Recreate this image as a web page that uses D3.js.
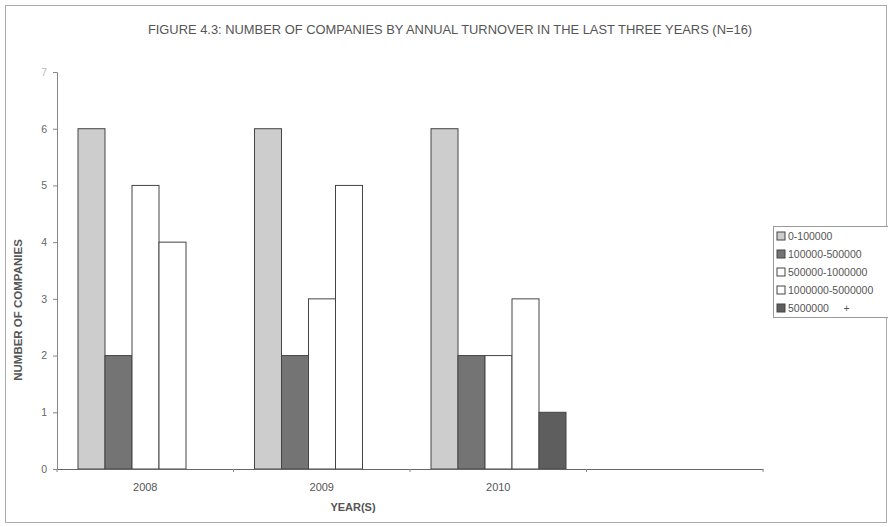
<!DOCTYPE html>
<html>
<head>
<meta charset="utf-8">
<script src="https://cdn.jsdelivr.net/npm/d3@7"></script>
<style>
  body { margin: 0; background: #fff; }
  svg { font-family: "Liberation Sans", Arial, sans-serif; }
</style>
</head>
<body>
<svg id="chart" width="888" height="527"></svg>
<script>
// data
var years = ["2008", "2009", "2010", ""];
var bands = ["0-100000", "100000-500000", "500000-1000000", "1000000-5000000", "5000000     +"];
var band1 = [6, 6, 6, null];   // 0-100000
var band2 = [2, 2, 2, null];   // 100000-500000
var band3 = [5, 3, 2, null];   // 500000-1000000
var band4 = [4, 5, 3, null];   // 1000000-5000000
var band5 = [0, 0, 1, null];   // 5000000 +
var yTicks = [0, 1, 2, 3, 4, 5, 6, 7];

(function() {
var series = [band1, band2, band3, band4, band5];
var fills = ["#cdcdcd", "#747474", "#ffffff", "#ffffff", "#5e5e5e"];

var svg = d3.select("#chart");

// frame
svg.append("rect")
  .attr("x", 5.5).attr("y", 5.5)
  .attr("width", 881).attr("height", 517)
  .attr("fill", "none").attr("stroke", "#aaa").attr("stroke-width", 1);

var plotLeft = 57, plotRight = 763, plotTop = 72, plotBottom = 469;

var x0 = d3.scaleBand().domain(d3.range(years.length)).range([plotLeft, plotRight]);
var x1 = d3.scaleBand().domain(d3.range(bands.length)).range([21, x0.bandwidth() - 20.5]);
var y = d3.scaleLinear().domain([0, 7]).range([plotBottom, plotTop]);

// bars
series.forEach(function(vals, si) {
  svg.append("g").selectAll("rect")
    .data(vals.map(function(v, i) { return {i: i, v: v}; }).filter(function(d) { return d.v !== null && d.v > 0; }))
    .enter().append("rect")
    .attr("x", function(d) { return x0(d.i) + x1(si); })
    .attr("y", function(d) { return y(d.v); })
    .attr("width", x1.bandwidth())
    .attr("height", function(d) { return y(0) - y(d.v); })
    .attr("fill", fills[si])
    .attr("stroke", "#444")
    .attr("stroke-width", 1);
});

// y axis
var yAxis = svg.append("g")
  .attr("transform", "translate(" + plotLeft + ",0)")
  .call(d3.axisLeft(y).tickValues(yTicks).tickSize(4).tickFormat(d3.format("d")));
yAxis.select(".domain").attr("stroke", "#888");
yAxis.selectAll(".tick line").attr("stroke", "#888");
yAxis.selectAll("text").attr("fill", "#666").style("font-size", "10.5px").attr("x", -10);
yAxis.selectAll(".tick").filter(function(d) { return d === 7; }).select("text").attr("fill", "#bbb");

// x axis
var xAxis = svg.append("g")
  .attr("transform", "translate(0," + plotBottom + ")")
  .call(d3.axisBottom(x0).tickSize(0).tickFormat(function(i) { return years[i]; }));
xAxis.select(".domain").attr("stroke", "#666");
xAxis.selectAll("text").attr("fill", "#555").style("font-size", "11px").attr("dy", "1.75em");
// category separators
svg.append("g").selectAll("line")
  .data(d3.range(years.length + 1))
  .enter().append("line")
  .attr("x1", function(i) { return plotLeft + i * x0.step(); })
  .attr("x2", function(i) { return plotLeft + i * x0.step(); })
  .attr("y1", plotBottom).attr("y2", plotBottom + 3)
  .attr("stroke", "#888");

// title
svg.append("text")
  .attr("x", 450).attr("y", 34)
  .attr("text-anchor", "middle")
  .attr("fill", "#555")
  .style("font-size", "12.9px")
  .text("FIGURE 4.3: NUMBER OF COMPANIES BY ANNUAL TURNOVER IN THE LAST THREE YEARS (N=16)");

// axis titles
svg.append("text")
  .attr("transform", "translate(22,310) rotate(-90)")
  .attr("text-anchor", "middle")
  .attr("fill", "#555")
  .style("font-size", "11.5px").style("font-weight", "bold")
  .text("NUMBER OF COMPANIES");

svg.append("text")
  .attr("x", 353).attr("y", 511)
  .attr("text-anchor", "middle")
  .attr("fill", "#555")
  .style("font-size", "11px").style("font-weight", "bold")
  .text("YEAR(S)");

// legend
var lg = svg.append("g").attr("transform", "translate(773,226)");
lg.append("rect")
  .attr("x", 0.5).attr("y", 0.5).attr("width", 120).attr("height", 91)
  .attr("fill", "#fff").attr("stroke", "#999");
bands.forEach(function(b, i) {
  var row = lg.append("g").attr("transform", "translate(4," + (10 + i * 18) + ")");
  row.append("rect")
    .attr("x", 0).attr("y", -4).attr("width", 8).attr("height", 8)
    .attr("fill", fills[i]).attr("stroke", "#444");
  row.append("text")
    .attr("x", 11).attr("y", 4)
    .attr("fill", "#555")
    .style("font-size", "10.5px")
    .style("white-space", "pre")
    .text(b);
});
})();
</script>
</body>
</html>
